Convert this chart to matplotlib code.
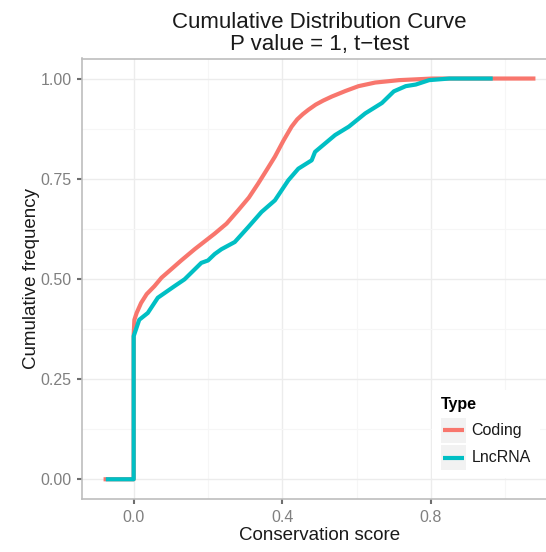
import numpy as np
import matplotlib
matplotlib.use("Agg")
import matplotlib.pyplot as plt
from matplotlib.patches import Rectangle
from matplotlib.lines import Line2D

plt.rcParams["font.family"] = ["Liberation Sans", "DejaVu Sans"]

# cumulative curves
coding_x = [-0.081, 0.0, 0.0, 0.002, 0.008, 0.020, 0.035, 0.056, 0.075, 0.101,
            0.128, 0.164, 0.218, 0.250, 0.281, 0.310, 0.335, 0.358, 0.380, 0.403,
            0.425, 0.440, 0.455, 0.470, 0.490, 0.510, 0.533, 0.570, 0.605, 0.650,
            0.714, 0.760, 0.803, 1.081]
coding_y = [0.0, 0.0, 0.36, 0.398, 0.415, 0.440, 0.462, 0.482, 0.503, 0.524,
            0.546, 0.574, 0.613, 0.638, 0.671, 0.703, 0.738, 0.772, 0.805, 0.845,
            0.880, 0.898, 0.911, 0.922, 0.935, 0.945, 0.955, 0.969, 0.981, 0.990,
            0.996, 0.998, 1.0, 1.0]

lnc_x = [-0.075, 0.0, 0.0, 0.015, 0.038, 0.065, 0.110, 0.137, 0.182, 0.200,
         0.218, 0.236, 0.272, 0.308, 0.344, 0.380, 0.416, 0.443, 0.479, 0.488,
         0.542, 0.579, 0.623, 0.668, 0.700, 0.732, 0.759, 0.795, 0.849, 0.966]
lnc_y = [0.0, 0.0, 0.357, 0.398, 0.415, 0.453, 0.482, 0.499, 0.540, 0.546,
         0.562, 0.574, 0.592, 0.629, 0.667, 0.696, 0.746, 0.775, 0.796, 0.817,
         0.859, 0.880, 0.913, 0.939, 0.968, 0.981, 0.985, 0.996, 1.0, 1.0]

series = ["Coding", "LncRNA"]
colors = ["#F8766D", "#00BFC4"]

xticks = [0.0, 0.4, 0.8]
yticks = [0.0, 0.25, 0.5, 0.75, 1.0]

W, H = 546, 552
fig = plt.figure(figsize=(W / 100, H / 100), dpi=100)
ax = fig.add_axes([82 / W, (H - 499.3) / H, (557 - 82) / W, (499.3 - 58.5) / H])

ax.plot(coding_x, coding_y, color=colors[0], lw=3.0, solid_capstyle="butt",
        solid_joinstyle="round", zorder=3)
ax.plot(lnc_x, lnc_y, color=colors[1], lw=3.0, solid_capstyle="butt",
        solid_joinstyle="round", zorder=4)

ax.set_xlim(-0.139, 1.139)
ax.set_ylim(-0.05, 1.05)
ax.set_xticks(xticks)
ax.set_xticklabels([f"{v:.1f}" for v in xticks])
ax.set_yticks(yticks)
ax.set_yticklabels([f"{v:.2f}" for v in yticks])
ax.set_xticks([0.2, 0.6, 1.0], minor=True)
ax.set_yticks([0.125, 0.375, 0.625, 0.875], minor=True)

ax.grid(True, which="major", color="#ececec", lw=1.0)
ax.grid(True, which="minor", color="#f6f6f6", lw=0.8)
ax.set_axisbelow(True)

for side in ["left", "bottom", "top"]:
    ax.spines[side].set_color("#bdbdbd")
    ax.spines[side].set_linewidth(1.2)
ax.spines["right"].set_visible(False)

ax.tick_params(which="major", length=3.5, width=1.5, color="#6e6e6e",
               labelsize=11.5, labelcolor="#808080", pad=4)
ax.tick_params(which="minor", length=0)

ax.set_xlabel("Conservation score", fontsize=13.5, color="#1a1a1a", labelpad=2)
ax.set_ylabel("Cumulative frequency", fontsize=13.5, color="#1a1a1a", labelpad=0)
ax.set_title("Cumulative Distribution Curve\nP value = 1, t\u2212test",
             fontsize=16, color="#1a1a1a", linespacing=1.05, pad=6)

# legend drawn in figure pixels
def fx(px):
    return px / W


def fy(py):
    return 1 - py / H


fig.patches.append(Rectangle((fx(432), fy(478)), fx(540) - fx(432), fy(390) - fy(478),
                             transform=fig.transFigure, facecolor="white",
                             edgecolor="none", zorder=5))
fig.text(fx(441), fy(404), "Type", fontsize=11.5, fontweight="bold",
         va="center", ha="left", zorder=6)
for i, (name, c) in enumerate(zip(series, colors)):
    top = 417.5 + i * 27.8
    fig.patches.append(Rectangle((fx(441), fy(top + 25)), fx(25), 25 / H,
                                 transform=fig.transFigure, facecolor="#f2f2f2",
                                 edgecolor="none", zorder=6))
    yc = fy(top + 12.5)
    fig.lines.append(Line2D([fx(443), fx(464)], [yc, yc], transform=fig.transFigure,
                            color=c, lw=3.0, solid_capstyle="butt", zorder=7))
    fig.text(fx(471.5), yc, name, fontsize=11.5, va="center", ha="left",
             color="#1a1a1a", zorder=7)

fig.savefig("out.png", dpi=100)
